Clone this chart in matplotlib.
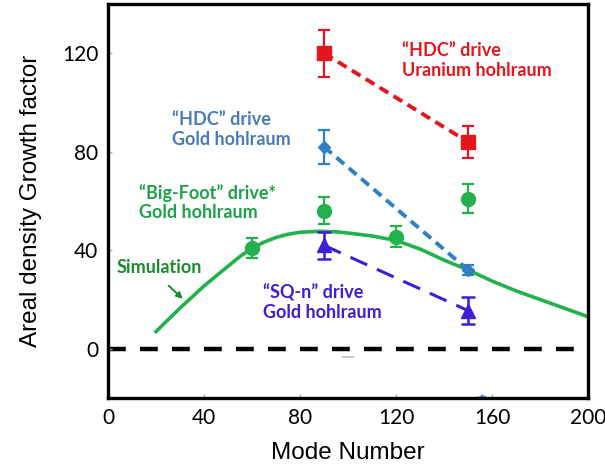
import matplotlib
matplotlib.use("Agg")
import matplotlib.pyplot as plt

# Simulation curve
sim_mode = [20, 30, 40, 50, 55, 60, 65, 70, 75, 80, 88, 95, 100, 110, 120, 130, 140, 150,
            160, 170, 180, 190, 200]
sim_growth = [7, 16.5, 25.5, 33.5, 37.5, 40.8, 43.3, 45.2, 46.5, 47.3, 47.7, 47.5, 47, 45.8,
              44, 40.5, 36, 32, 27.5, 23.5, 20, 16.5, 13]

# "HDC" drive, uranium hohlraum
hdc_u_mode = [90, 150]
hdc_u_growth = [120, 84]
hdc_u_err = [9.5, 6.5]

# "HDC" drive, gold hohlraum
hdc_au_mode = [90, 150]
hdc_au_growth = [82, 32]
hdc_au_err = [7, 2]

# "Big-Foot" drive, gold hohlraum
bf_mode = [60, 90, 120, 150]
bf_growth = [41, 56, 45.5, 61]
bf_err = [4, 5.5, 4.2, 6]

# "SQ-n" drive, gold hohlraum
sqn_mode = [90, 150]
sqn_growth = [42, 15.5]
sqn_err = [5.5, 5.5]

RED = "#e4161d"
BLUE = "#2f7fc6"
BLUE_TXT = "#4a7ab8"
GREEN = "#22b14c"
GREEN_TXT = "#1fa04a"
DKGREEN = "#1d8a2e"
PURPLE = "#3a1fd6"

fig = plt.figure(figsize=(6.05, 4.69), dpi=100)
ax = fig.add_axes([0.1785, 0.1514, 0.7935, 0.84])

ax.axhline(0, color="black", lw=3.2, ls=(0, (4, 3.2)), zorder=1)

ax.plot(sim_mode, sim_growth, color=GREEN, lw=2.6, zorder=2)

ax.plot(hdc_u_mode, hdc_u_growth, color=RED, lw=2.8, ls=(0, (2.6, 1.6)), zorder=3)
ax.errorbar(hdc_u_mode, hdc_u_growth, yerr=hdc_u_err, fmt="s", color=RED, ms=10,
            capsize=4, elinewidth=1.6, capthick=1.6, zorder=4)

ax.plot(hdc_au_mode, hdc_au_growth, color=BLUE, lw=2.8, ls=(0, (2.6, 1.6)), zorder=3)
ax.errorbar(hdc_au_mode, hdc_au_growth, yerr=hdc_au_err, fmt="D", color=BLUE, ms=6,
            capsize=4, elinewidth=1.6, capthick=1.6, zorder=4)

ax.errorbar(bf_mode, bf_growth, yerr=bf_err, fmt="o", color=GREEN, ms=10,
            capsize=4, elinewidth=1.6, capthick=1.6, zorder=4)

ax.plot(sqn_mode, sqn_growth, color=PURPLE, lw=2.2, ls=(0, (6, 3.5)), zorder=3)
ax.errorbar(sqn_mode, sqn_growth, yerr=sqn_err, fmt="^", color=PURPLE, ms=10,
            capsize=5, elinewidth=1.8, capthick=1.8, zorder=4)

lab = dict(fontsize=13, fontweight="bold", family=["Lato", "DejaVu Sans"], va="center",
           linespacing=1.2)
ax.text(122.5, 117, "\u201cHDC\u201d drive\nUranium hohlraum", color=RED, **lab)
ax.text(26.7, 89, "\u201cHDC\u201d drive\nGold hohlraum", color=BLUE_TXT, **lab)
ax.text(12.9, 59.4, "\u201cBig-Foot\u201d drive*\nGold hohlraum", color=GREEN_TXT, **lab)
ax.text(64.4, 18.7, "\u201cSQ-n\u201d drive\nGold hohlraum", color=PURPLE, **lab)
ax.text(3.5, 32.9, "Simulation", color=DKGREEN, **lab)
ax.annotate("", xy=(32, 19.5), xytext=(24.4, 26.4),
            arrowprops=dict(arrowstyle="-|>", color=DKGREEN, lw=1.4, mutation_scale=9))

# stray marks from the original figure
ax.plot([98, 102], [-3.2, -3.2], color="#c8c8c8", lw=1.5, zorder=1)
ax.annotate("", xy=(159, -19.6), xytext=(153, -19.6),
            arrowprops=dict(arrowstyle="-|>", color="#5b8fd0", lw=1.0, mutation_scale=7))

ax.set_xlim(0, 200)
ax.set_ylim(-20, 140)
ax.set_xticks([0, 40, 80, 120, 160, 200])
ax.set_yticks([0, 40, 80, 120])
ax.tick_params(direction="in", length=3, width=1, color="#aaaaaa", labelsize=15, pad=7)
for t in ax.get_xticklabels() + ax.get_yticklabels():
    t.set_family(["Lato", "DejaVu Sans"])
for s in ax.spines.values():
    s.set_linewidth(2.4)
    s.set_color("black")
    s.set_zorder(6)

ax.set_xlabel("Mode Number", fontsize=17.5, family=["Liberation Sans", "DejaVu Sans"], labelpad=10)
ax.set_ylabel("Areal density Growth factor", fontsize=17.5,
              family=["Liberation Sans", "DejaVu Sans"], labelpad=14)

fig.savefig("out.png", dpi=100)
